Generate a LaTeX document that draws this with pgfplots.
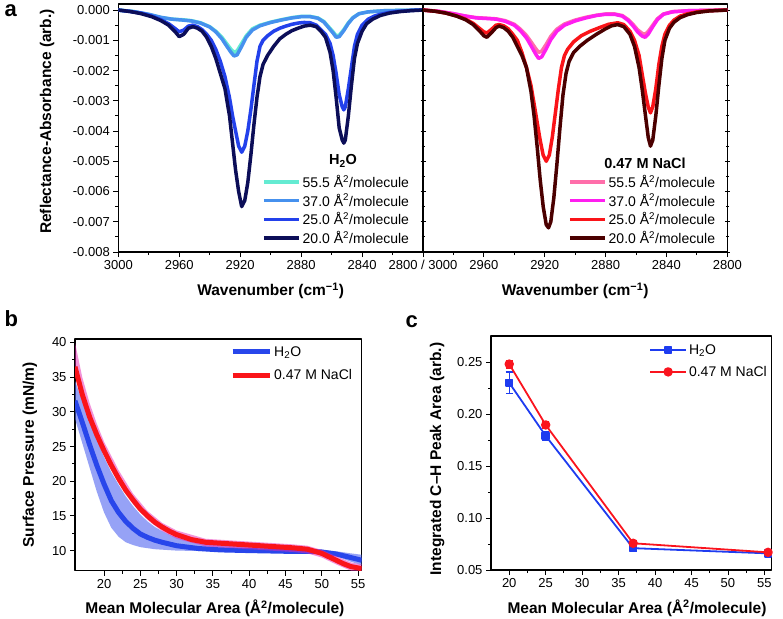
\documentclass[border=0pt]{standalone}
\usepackage{pgfplots}
\pgfplotsset{compat=1.18}
\usepackage{fontspec}
\setmainfont{Liberation Sans}

\definecolor{hA}{RGB}{100,235,210}
\definecolor{hB}{RGB}{70,145,238}
\definecolor{hC}{RGB}{35,65,235}
\definecolor{hD}{RGB}{12,14,88}
\definecolor{nA}{RGB}{255,110,170}
\definecolor{nB}{RGB}{255,30,240}
\definecolor{nC}{RGB}{250,20,25}
\definecolor{nD}{RGB}{75,0,0}
\definecolor{bBlue}{RGB}{40,70,235}
\definecolor{bBand}{RGB}{80,100,240}
\definecolor{rBand}{RGB}{230,40,180}
\definecolor{cBlue}{RGB}{30,60,240}
\definecolor{cRed}{RGB}{250,20,30}

\pgfplotsset{panel/.style={
  scale only axis,
  axis line style={line width=1.1pt, black},
  tick style={line width=0.9pt, black},
  major tick length=5pt, minor tick length=3pt,
  tick align=outside,
  ticklabel style={font=\fontsize{13}{15}\selectfont},
  label style={font=\bfseries\fontsize{15.5}{18}\selectfont},
  /pgf/number format/assume math mode=true,
  legend style={draw=none, fill=none, inner sep=0pt, font=\fontsize{14}{16}\selectfont},
  legend cell align=left,
  line join=round,
}}

\begin{document}
\begin{tikzpicture}
\path[use as bounding box] (0pt,0pt) rectangle (783pt,-618pt);

% ---------------- panel a, left (H2O)
\begin{axis}[panel, at={(118.3pt,-252pt)}, anchor=south west, width=304.7pt, height=248pt,
  x dir=reverse, xmin=2800, xmax=3000, ymin=-0.008, ymax=0.0002,
  xtick={2800,2840,2880,2920,2960,3000},
  xticklabels={{2800 / 3000},2840,2880,2920,2960,3000},
  minor x tick num=1, xtick pos=left,
  ytick={-0.008,-0.007,-0.006,-0.005,-0.004,-0.003,-0.002,-0.001,0},
  yticklabels={-0.008,-0.007,-0.006,-0.005,-0.004,-0.003,-0.002,-0.001,0.000},
  minor y tick num=1, ytick pos=left,
  xlabel={Wavenumber (cm\textsuperscript{−1})},
  ylabel={Reflectance-Absorbance (arb.)},
  xlabel style={at={(axis description cs:0.5,-0.157)}, anchor=center},
  ylabel style={at={(axis description cs:-0.234,0.526)}, anchor=center},
  legend style={at={(axis description cs:0.4716,0.319)}, anchor=north west, row sep=1pt},
  legend image code/.code={\draw[#1] (0pt,0pt) -- (35pt,0pt);},
]
\addplot[hA, line width=3.5pt] coordinates {(3000,0) (2990,-0.00005) (2980,-0.00015) (2972,-0.00025) (2965,-0.0003) (2958,-0.00032) (2952,-0.00035) (2946,-0.00042) (2940,-0.00055) (2936,-0.0007) (2932,-0.0009) (2929,-0.0011) (2926,-0.0013) (2924,-0.0014) (2922,-0.00135) (2919,-0.0011) (2916,-0.00085) (2912,-0.00062) (2907,-0.0005) (2900,-0.0004) (2893,-0.00032) (2886,-0.00025) (2880,-0.00021) (2874,-0.00021) (2869,-0.00026) (2865,-0.00038) (2862,-0.00055) (2859,-0.00072) (2857,-0.00085) (2855,-0.00083) (2852,-0.00065) (2849,-0.00042) (2846,-0.00025) (2842,-0.00012) (2836,-0.00006) (2825,-0.00002) (2800,0)};
\addlegendentry{55.5 Å\textsuperscript{2}/molecule}
\addplot[hB, line width=3.5pt] coordinates {(3000,0) (2990,-0.00005) (2980,-0.00014) (2972,-0.00024) (2965,-0.0003) (2958,-0.00033) (2952,-0.00036) (2946,-0.00043) (2940,-0.00056) (2936,-0.00072) (2932,-0.00095) (2929,-0.00118) (2926,-0.0014) (2924,-0.00152) (2922,-0.00148) (2919,-0.0012) (2916,-0.0009) (2912,-0.00066) (2907,-0.00052) (2900,-0.00041) (2893,-0.00033) (2886,-0.00026) (2880,-0.00022) (2874,-0.00022) (2869,-0.00027) (2865,-0.0004) (2862,-0.00058) (2859,-0.00076) (2857,-0.0009) (2855,-0.00088) (2852,-0.00068) (2849,-0.00044) (2846,-0.00026) (2842,-0.00012) (2836,-0.00006) (2825,-0.00002) (2800,0)};
\addlegendentry{37.0 Å\textsuperscript{2}/molecule}
\addplot[hC, line width=3.5pt] coordinates {(3000,0) (2992,-0.00005) (2985,-0.0001) (2978,-0.0002) (2972,-0.00032) (2967,-0.00045) (2963,-0.0006) (2960,-0.00072) (2957,-0.00066) (2954,-0.00053) (2951,-0.0005) (2948,-0.00055) (2945,-0.00065) (2942,-0.0008) (2939,-0.001) (2936,-0.0013) (2933,-0.0017) (2930,-0.0022) (2927,-0.0029) (2925,-0.0035) (2923,-0.004) (2921,-0.0045) (2919,-0.0047) (2917,-0.0045) (2915,-0.004) (2913,-0.0033) (2911,-0.0025) (2909,-0.0017) (2907,-0.0012) (2905,-0.001) (2902,-0.00085) (2898,-0.0007) (2894,-0.0006) (2890,-0.00053) (2886,-0.00047) (2882,-0.00043) (2878,-0.00041) (2874,-0.00042) (2870,-0.0005) (2867,-0.00065) (2864,-0.0008) (2861,-0.0011) (2859,-0.0015) (2857,-0.0021) (2855,-0.0028) (2853,-0.0032) (2852,-0.0033) (2851,-0.0032) (2849,-0.0026) (2847,-0.0019) (2845,-0.0012) (2843,-0.0008) (2840,-0.0005) (2836,-0.0003) (2832,-0.0002) (2828,-0.00014) (2822,-0.00008) (2815,-0.00004) (2808,-0.00001) (2800,0)};
\addlegendentry{25.0 Å\textsuperscript{2}/molecule}
\addplot[hD, line width=3.5pt] coordinates {(3000,0) (2992,-0.00005) (2985,-0.00012) (2978,-0.00022) (2972,-0.00035) (2967,-0.0005) (2963,-0.0007) (2960,-0.00088) (2957,-0.0008) (2954,-0.0006) (2951,-0.00055) (2948,-0.0006) (2945,-0.0007) (2942,-0.0009) (2939,-0.0012) (2936,-0.0016) (2933,-0.0021) (2930,-0.0026) (2927,-0.0035) (2925,-0.0044) (2923,-0.0053) (2921,-0.006) (2919,-0.0065) (2917,-0.0063) (2915,-0.0057) (2913,-0.0048) (2911,-0.0038) (2909,-0.0029) (2907,-0.0022) (2905,-0.0018) (2902,-0.0015) (2898,-0.0012) (2894,-0.00095) (2890,-0.0008) (2886,-0.00068) (2882,-0.0006) (2878,-0.00053) (2874,-0.0005) (2870,-0.00055) (2867,-0.0007) (2864,-0.0009) (2861,-0.0014) (2859,-0.002) (2857,-0.0029) (2855,-0.0039) (2853,-0.0043) (2852,-0.0044) (2851,-0.0043) (2849,-0.0035) (2847,-0.0025) (2845,-0.0016) (2843,-0.0011) (2840,-0.0007) (2837,-0.00045) (2833,-0.0003) (2828,-0.00018) (2822,-0.0001) (2815,-0.00005) (2808,-0.00002) (2800,0)};
\addlegendentry{20.0 Å\textsuperscript{2}/molecule}
\node[font=\bfseries\fontsize{14.5}{16}\selectfont] at (axis description cs:0.7375,0.367) {H\textsubscript{2}O};
\end{axis}

% ---------------- panel a, right (NaCl)
\begin{axis}[panel, at={(423pt,-252pt)}, anchor=south west, width=304.3pt, height=248pt,
  x dir=reverse, xmin=2800, xmax=3000, ymin=-0.008, ymax=0.0002,
  xtick={2800,2840,2880,2920,2960,3000},
  xticklabels={2800,2840,2880,2920,2960,{}},
  minor x tick num=1, xtick pos=left,
  ytick={-0.008,-0.007,-0.006,-0.005,-0.004,-0.003,-0.002,-0.001,0}, yticklabels={},
  minor y tick num=1, ytick pos=both, ytick align=center,
  xlabel={Wavenumber (cm\textsuperscript{−1})},
  xlabel style={at={(axis description cs:0.5,-0.157)}, anchor=center},
  legend style={at={(axis description cs:0.4765,0.319)}, anchor=north west, row sep=1pt},
  legend image code/.code={\draw[#1] (0pt,0pt) -- (35pt,0pt);},
]
\addplot[nA, line width=3.5pt] coordinates {(3000,0) (2990,-0.00004) (2980,-0.00012) (2972,-0.0002) (2965,-0.00025) (2958,-0.00027) (2952,-0.00029) (2946,-0.00035) (2940,-0.00047) (2936,-0.00063) (2932,-0.00084) (2929,-0.00105) (2926,-0.00127) (2924,-0.0014) (2922,-0.00136) (2919,-0.00113) (2916,-0.00087) (2912,-0.00063) (2907,-0.00046) (2900,-0.00033) (2893,-0.00024) (2886,-0.00017) (2880,-0.00013) (2874,-0.00013) (2869,-0.00018) (2865,-0.00032) (2862,-0.00047) (2859,-0.00065) (2856,-0.00077) (2854,-0.0008) (2852,-0.00071) (2849,-0.0005) (2846,-0.00029) (2842,-0.00013) (2836,-0.00005) (2825,-0.00002) (2800,0)};
\addlegendentry{55.5 Å\textsuperscript{2}/molecule}
\addplot[nB, line width=3.5pt] coordinates {(3000,0) (2990,-0.00004) (2980,-0.00012) (2972,-0.0002) (2965,-0.00026) (2958,-0.00028) (2952,-0.0003) (2946,-0.00037) (2940,-0.0005) (2936,-0.00068) (2932,-0.00092) (2929,-0.00118) (2926,-0.00145) (2924,-0.0016) (2922,-0.00155) (2919,-0.00128) (2916,-0.00098) (2912,-0.0007) (2907,-0.0005) (2900,-0.00036) (2893,-0.00026) (2886,-0.00018) (2880,-0.00014) (2874,-0.00014) (2869,-0.0002) (2865,-0.00035) (2862,-0.00052) (2859,-0.00072) (2856,-0.00086) (2854,-0.0009) (2852,-0.0008) (2849,-0.00055) (2846,-0.00032) (2842,-0.00014) (2836,-0.00006) (2825,-0.00002) (2800,0)};
\addlegendentry{37.0 Å\textsuperscript{2}/molecule}
\addplot[nC, line width=3.5pt] coordinates {(3000,0) (2992,-0.00004) (2985,-0.0001) (2978,-0.00019) (2972,-0.0003) (2967,-0.00044) (2963,-0.0006) (2960,-0.00072) (2958,-0.00076) (2955,-0.00064) (2952,-0.0005) (2950,-0.00048) (2947,-0.00052) (2944,-0.00062) (2941,-0.0008) (2938,-0.001) (2935,-0.0014) (2932,-0.0019) (2929,-0.0025) (2927,-0.0031) (2925,-0.0037) (2923,-0.0043) (2921,-0.0048) (2919,-0.005) (2917,-0.0048) (2915,-0.0042) (2913,-0.0034) (2911,-0.0026) (2909,-0.0019) (2907,-0.0015) (2905,-0.0013) (2901,-0.00105) (2896,-0.00085) (2890,-0.0007) (2884,-0.00058) (2878,-0.00047) (2872,-0.00042) (2868,-0.00048) (2864,-0.0007) (2861,-0.001) (2858,-0.0015) (2856,-0.0021) (2854,-0.0027) (2852,-0.0032) (2850.5,-0.0034) (2849,-0.0032) (2847,-0.0026) (2845,-0.0018) (2843,-0.0012) (2841,-0.0008) (2838,-0.0005) (2835,-0.00033) (2831,-0.0002) (2826,-0.00012) (2820,-0.00006) (2812,-0.00002) (2800,0)};
\addlegendentry{25.0 Å\textsuperscript{2}/molecule}
\addplot[nD, line width=3.5pt] coordinates {(3000,0) (2992,-0.00004) (2985,-0.0001) (2978,-0.0002) (2972,-0.00032) (2967,-0.00048) (2963,-0.00068) (2960,-0.00085) (2958,-0.0009) (2955,-0.00075) (2952,-0.00058) (2950,-0.00053) (2947,-0.00058) (2944,-0.0007) (2941,-0.0009) (2938,-0.0012) (2935,-0.0015) (2932,-0.0019) (2929,-0.0027) (2927,-0.0035) (2925,-0.0045) (2923,-0.0056) (2921,-0.0065) (2919,-0.0071) (2917.5,-0.0072) (2916,-0.007) (2914,-0.0062) (2912,-0.0051) (2910,-0.0039) (2908,-0.0028) (2906,-0.0021) (2904,-0.0017) (2901,-0.0014) (2897,-0.0012) (2892,-0.001) (2886,-0.0008) (2880,-0.00062) (2876,-0.00052) (2872,-0.00048) (2868,-0.00055) (2864,-0.0008) (2861,-0.0012) (2858,-0.0019) (2856,-0.0026) (2854,-0.0034) (2852,-0.0042) (2850.5,-0.0045) (2849,-0.0043) (2847,-0.0035) (2845,-0.0025) (2843,-0.0016) (2841,-0.001) (2838,-0.0006) (2835,-0.0004) (2831,-0.00025) (2826,-0.00015) (2820,-0.00008) (2812,-0.00003) (2800,0)};
\addlegendentry{20.0 Å\textsuperscript{2}/molecule}
\node[font=\bfseries\fontsize{14.5}{16}\selectfont] at (axis description cs:0.7295,0.359) {0.47 M NaCl};
\end{axis}

% ---------------- panel b
\begin{axis}[panel, at={(75pt,-570.7pt)}, anchor=south west, width=286.7pt, height=231.7pt,
  xmin=16, xmax=55.5, ymin=7.1, ymax=40.5,
  xtick={20,25,30,35,40,45,50,55}, ytick={10,15,20,25,30,35,40},
  minor x tick num=1, minor y tick num=1, xtick pos=left, ytick pos=left,
  xlabel={Mean Molecular Area (Å\textsuperscript{2}/molecule)},
  ylabel={Surface Pressure (mN/m)},
  xlabel style={at={(axis description cs:0.488,-0.161)}, anchor=center},
  ylabel style={at={(axis description cs:-0.157,0.5)}, anchor=center},
  legend style={at={(axis description cs:0.5406,0.978)}, anchor=north west, row sep=8pt},
  legend image code/.code={\draw[#1] (0pt,0pt) -- (37pt,0pt);},
]
% H2O band: upper edge left to right, then lower edge right to left
\addplot[fill=bBand, fill opacity=0.6, draw=none, forget plot] coordinates {(16,34.5) (17,31.5) (18,28.5) (19,26) (20,23.5) (21,21.3) (22,19.5) (23,17.8) (24,16.4) (25,15.2) (26,14.2) (27,13.4) (28,12.8) (29,12.3) (30,11.9) (32,11.3) (35,10.9) (40,10.6) (45,10.4) (48,10.3) (50,10.1) (52,9.9) (54,9.6) (55.5,9.4)
 (55.5,7.9) (54,8.4) (52,9.2) (50,9.6) (45,9.7) (40,9.8) (35,9.9) (30,10.0) (27,10.2) (25,10.5) (24,10.8) (23,11.2) (22,12.0) (21,13.3) (20,15.5) (19,18.5) (18,22) (17,25.5) (16,29)};
\addplot[bBlue, line width=5pt] coordinates {(16,31.6) (17,28.5) (18,25.3) (19,22.3) (20,19.6) (21,17.2) (22,15.5) (23,14.2) (24,13.2) (25,12.4) (26,11.9) (27,11.5) (28,11.2) (30,10.7) (33,10.3) (36,10.1) (40,10.0) (45,9.9) (48,9.9) (50,9.8) (52,9.5) (54,9.0) (55.5,8.6)};
\addlegendentry{H\textsubscript{2}O}
% NaCl band
\addplot[fill=rBand, fill opacity=0.5, draw=none, forget plot] coordinates {(16,40) (17,35) (18,31.3) (19,28.3) (20,25.7) (22,21.6) (24,18.2) (26,15.7) (28,14.0) (30,12.9) (34,11.7) (40,11.3) (46,10.9) (48,10.7) (50,10.1) (52,9.2) (54,8.3) (55.5,8.0)
 (55.5,6.8) (54,7.1) (52,8.0) (50,9.0) (48,9.6) (46,9.8) (40,10.2) (34,10.6) (30,11.7) (28,12.8) (26,14.4) (24,16.7) (22,19.8) (20,23.8) (19,26.1) (18,28.7) (17,31.9) (16,35.9)};
\addplot[nC, line width=5pt] coordinates {(16,36.5) (17,32.5) (18,29.3) (19,26.7) (20,24.4) (21,22.3) (22,20.4) (23,18.7) (24,17.3) (25,16.0) (26,15.0) (27,14.1) (28,13.4) (29,12.8) (30,12.3) (32,11.6) (34,11.2) (37,11.0) (40,10.8) (43,10.6) (46,10.4) (48,10.2) (50,9.6) (51,9.1) (52,8.6) (53,8.1) (54,7.7) (55.5,7.4)};
\addlegendentry{0.47 M NaCl}
\end{axis}

% ---------------- panel c
\begin{axis}[panel, at={(491pt,-570pt)}, anchor=south west, width=280.7pt, height=234pt,
  xmin=17.5, xmax=56, ymin=0.05, ymax=0.275,
  xtick={20,25,30,35,40,45,50,55},
  ytick={0.05,0.10,0.15,0.20,0.25}, yticklabels={0.05,0.10,0.15,0.20,0.25},
  minor x tick num=1, minor y tick num=1, xtick pos=left, ytick pos=left,
  xlabel={Mean Molecular Area (Å\textsuperscript{2}/molecule)},
  ylabel={Integrated C–H Peak Area (arb.)},
  xlabel style={at={(axis description cs:0.52,-0.162)}, anchor=center},
  ylabel style={at={(axis description cs:-0.192,0.474)}, anchor=center},
  legend style={at={(axis description cs:0.563,0.974)}, anchor=north west, row sep=6.5pt},
  legend image code/.code={\draw[mark repeat=2, mark phase=2, #1] plot coordinates {(0pt,0pt) (18pt,0pt) (36pt,0pt)};},
]
\addplot[cBlue, line width=1.8pt, mark=square*, mark size=3.3pt, mark options={solid},
  error bars/.cd, y dir=both, y explicit, error bar style={line width=1.3pt},
  error mark options={rotate=90, mark size=3.5pt, line width=1.3pt}]
  coordinates {(20,0.230) +- (0,0.0105) (25,0.179) +- (0,0.0043) (37,0.071) +- (0,0.0035) (55.5,0.066) +- (0,0.002)};
\addlegendentry{H\textsubscript{2}O}
\addplot[cRed, line width=1.8pt, mark=*, mark size=3.8pt, mark options={solid},
  error bars/.cd, y dir=both, y explicit, error bar style={line width=1.3pt},
  error mark options={rotate=90, mark size=3.5pt, line width=1.3pt}]
  coordinates {(20,0.248) +- (0,0.0037) (25,0.1895) +- (0,0.003) (37,0.0757) +- (0,0.003) (55.5,0.067) +- (0,0.002)};
\addlegendentry{0.47 M NaCl}
\end{axis}

\node[anchor=base west, font=\bfseries\fontsize{22}{24}\selectfont] at (1pt,-17pt) {a};
\node[anchor=base west, font=\bfseries\fontsize{22}{24}\selectfont] at (1pt,-326pt) {b};
\node[anchor=base west, font=\bfseries\fontsize{22}{24}\selectfont] at (402pt,-327pt) {c};
\end{tikzpicture}
\end{document}
